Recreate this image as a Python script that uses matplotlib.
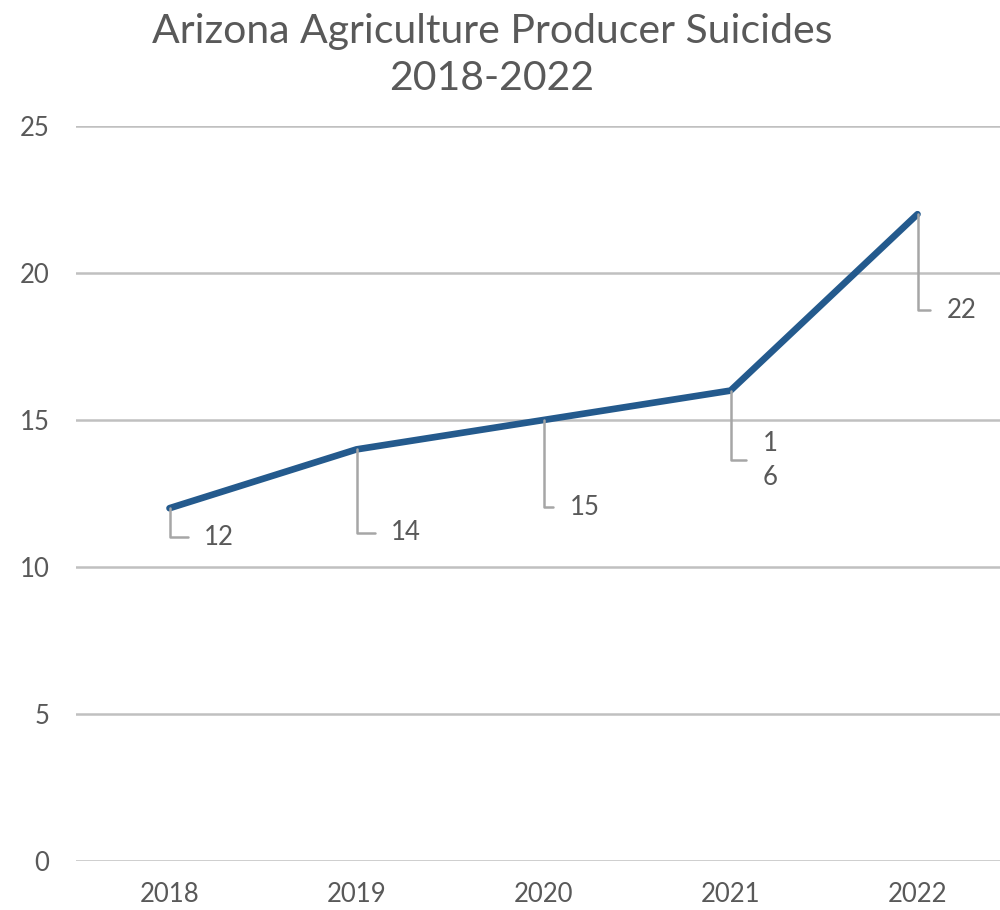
import matplotlib
matplotlib.use("Agg")
import matplotlib.pyplot as plt

# data
years = ["2018", "2019", "2020", "2021", "2022"]
suicides = [12, 14, 15, 16, 22]
label_texts = ["12", "14", "15", "1\n6", "22"]
# label offsets from the point, in points (data-label placement)
label_dx = [25, 25, 19, 23, 21]
label_dy = [-21, -60, -63, -50, -69]

TEXT = "#595959"
GRID = "#c0c0c0"
LINE = "#245a8d"
LEADER = "#a6a6a6"

plt.rcParams["font.family"] = ["Lato", "DejaVu Sans"]

fig = plt.figure(figsize=(10, 9.1), dpi=100)
ax = fig.add_axes([0.076, 1 - 861 / 910, 0.935, (861 - 126) / 910])

x = list(range(len(years)))
ax.plot(x, suicides, color=LINE, lw=4.8, solid_capstyle="round",
        solid_joinstyle="round", zorder=3)

for xi, yi, t, dx, dy in zip(x, suicides, label_texts, label_dx, label_dy):
    ax.annotate(t, xy=(xi, yi), xytext=(dx, dy), textcoords="offset points",
                ha="left", va="center", fontsize=18.5, color=TEXT,
                linespacing=1.45,
                arrowprops=dict(arrowstyle="-", color=LEADER, lw=1.8,
                                connectionstyle="angle,angleA=0,angleB=90,rad=0",
                                relpos=(0, 0.5), shrinkA=10, shrinkB=0),
                zorder=4)

ax.set_xlim(-0.5, len(years) - 0.5)
ax.set_ylim(0, 25)
ax.set_yticks([0, 5, 10, 15, 20, 25])
ax.set_xticks(x)
ax.set_xticklabels(years)
ax.grid(axis="y", color=GRID, lw=1.8)
ax.set_axisbelow(True)
for s in ax.spines.values():
    s.set_visible(False)
ax.tick_params(axis="both", length=0, labelsize=18.5, colors=TEXT)
ax.tick_params(axis="y", pad=19)
ax.tick_params(axis="x", pad=15)

fig.text(0.492, 1 - 55 / 910, "Arizona Agriculture Producer Suicides\n2018-2022",
         ha="center", va="center", fontsize=29.5, color=TEXT, linespacing=1.3)

fig.savefig("out.png", dpi=100)
